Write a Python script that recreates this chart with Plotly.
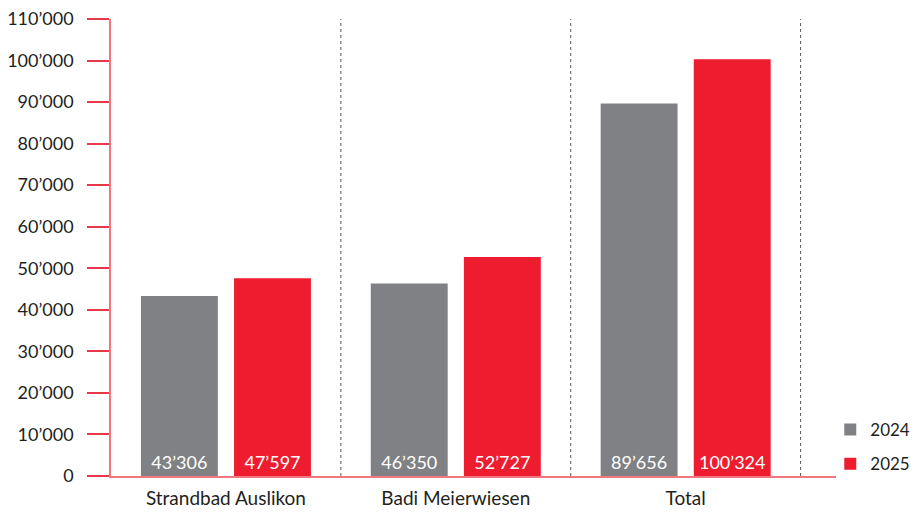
import plotly.graph_objects as go

categories = ["Strandbad Auslikon", "Badi Meierwiesen", "Total"]
values_2024 = [43306, 46350, 89656]
values_2025 = [47597, 52727, 100324]
labels_2024 = ["43’306", "46’350", "89’656"]
labels_2025 = ["47’597", "52’727", "100’324"]
y_ticks = [0, 10000, 20000, 30000, 40000, 50000, 60000, 70000, 80000, 90000, 100000, 110000]
y_tick_text = ["0", "10’000", "20’000", "30’000", "40’000", "50’000", "60’000",
               "70’000", "80’000", "90’000", "100’000", "110’000"]

GRAY = "#808184"
RED = "#ED1C2E"
TEXT = "#231F20"
FONT = "Lato"

fig = go.Figure()
fig.add_trace(go.Bar(
    x=[0, 1, 2], y=values_2024, name="2024", marker=dict(color=GRAY, line=dict(width=0)),
    text=labels_2024, textposition="inside", insidetextanchor="start",
    textfont=dict(color="white", size=18, family=FONT), legendgroup="a",
))
fig.add_trace(go.Bar(
    x=[0, 1, 2], y=values_2025, name="2025", marker=dict(color=RED, line=dict(width=0)),
    text=labels_2025, textposition="inside", insidetextanchor="start",
    textfont=dict(color="white", size=18, family=FONT), legendgroup="b",
))

# dotted separators between categories
for sep in [0.5, 1.5, 2.5]:
    fig.add_shape(type="line", xref="x", yref="paper", x0=sep, x1=sep, y0=0, y1=1,
                  line=dict(color="#555555", width=1, dash="dot"), layer="below")

# page body has an 8px margin, so the figure is sized to fill the rest
fig.update_layout(
    width=910, height=504,
    margin=dict(l=103, r=82, t=11, b=36, autoexpand=False),
    plot_bgcolor="white", paper_bgcolor="white",
    barmode="group", bargap=0.19, bargroupgap=0.174,
    font=dict(family=FONT, size=18, color=TEXT),
    uniformtext=dict(mode="show", minsize=18),
    legend=dict(
        xref="container", yref="container", x=0.997, y=(504 - 404) / 504,
        xanchor="right", yanchor="top", traceorder="grouped", tracegroupgap=9,
        font=dict(size=17, color=TEXT, family=FONT), bgcolor="rgba(0,0,0,0)",
    ),
    xaxis=dict(
        range=[-0.5, 2.654], tickvals=[0, 1, 2], ticktext=categories,
        showline=True, linecolor="#F07680", linewidth=1.5, ticks="",
        ticklabelstandoff=4, ticklabeloverflow="allow",
        showgrid=False, zeroline=False, fixedrange=True, automargin=False,
        tickfont=dict(size=19, color=TEXT),
    ),
    yaxis=dict(
        range=[0, 110000], tickvals=y_ticks, ticktext=y_tick_text,
        showline=True, linecolor="#F07680", linewidth=1.5,
        ticks="outside", ticklen=22, tickcolor="#E8384A", tickwidth=1.5,
        ticklabelstandoff=10, ticklabeloverflow="allow",
        showgrid=False, zeroline=False, automargin=False,
        tickfont=dict(size=18, color=TEXT),
    ),
)

fig.write_html("out.html")
